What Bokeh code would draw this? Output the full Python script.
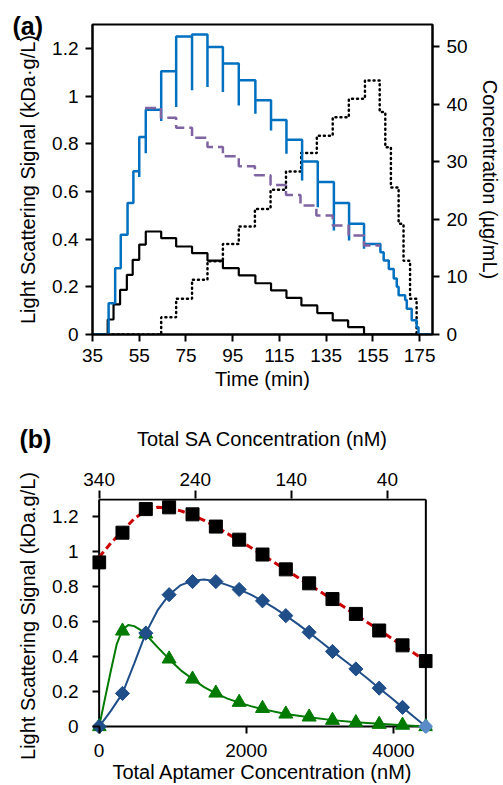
import numpy as np
from bokeh.plotting import figure
from bokeh.models import Range1d, LinearAxis, FixedTicker, Label
from bokeh.layouts import column
from bokeh.embed import file_html
from bokeh.resources import INLINE

FONT = "Liberation Sans"

# ---------------- Panel (a) data ----------------
time_ticks = [35, 55, 75, 95, 115, 135, 155, 175]
signal_ticks = [0, 0.2, 0.4, 0.6, 0.8, 1.0, 1.2]
signal_tick_labels = ["0", "0.2", "0.4", "0.6", "0.8", "1", "1.2"]
conc_ticks = [0, 10, 20, 30, 40, 50]

# blue light-scattering signal: step times, levels after each step, spike (dip) at the step
blue_time = [41.9, 44.7, 47.1, 50.0, 52.5, 55.0, 57.8, 64.4, 70.8, 77.6, 84.2, 90.8, 97.6,
             104.7, 111.4, 118.0, 124.7, 131.4, 138.3, 144.8, 151.2, 158.2, 159.6, 161.8,
             163.9, 165.2, 166.0, 168.8, 169.5, 171.6, 173.7, 174.5]
blue_level = [0.131, 0.278, 0.418, 0.551, 0.685, 0.828, 0.943, 1.104, 1.250, 1.258, 1.206,
              1.136, 1.066, 0.982, 0.900, 0.817, 0.726, 0.639, 0.551, 0.464, 0.380, 0.345,
              0.310, 0.275, 0.235, 0.200, 0.165, 0.145, 0.108, 0.060, 0.030, 0.0]
blue_dip = [None, None, None, None, None, 0.66, 0.76, 0.895, 0.954, 1.024, 1.038, 1.017,
            0.960, 0.926, 0.856, 0.758, 0.646, 0.534, 0.436, 0.394, 0.360, None, None, None,
            None, None, None, None, None, None, None, None]
blue_start, blue_end = 35.0, 180.5

# purple dashed signal
purple_time = [57.5, 64.3, 70.8, 77.6, 84.2, 90.8, 97.6, 104.5, 111.2, 117.8, 124.0, 130.8,
               137.8, 144.6, 151.2, 158.2]
purple_level = [0.950, 0.909, 0.867, 0.825, 0.786, 0.747, 0.706, 0.668, 0.627, 0.585, 0.541,
                0.499, 0.457, 0.415, 0.373, 0.373]

# black solid signal
black_time = [35.0, 41.5, 44.0, 46.8, 49.7, 52.2, 55.0, 57.8, 64.4, 70.8, 77.6, 84.2, 90.8,
              97.6, 104.7, 111.4, 118.0, 124.4, 131.2, 137.8, 144.4, 151.2, 180.5]
black_level = [0.0, 0.063, 0.126, 0.187, 0.250, 0.313, 0.377, 0.432, 0.404, 0.369, 0.341,
               0.310, 0.278, 0.248, 0.215, 0.185, 0.154, 0.122, 0.090, 0.059, 0.031, 0.0, 0.0]

# black dotted concentration (right axis, ug/mL)
dotted_time = [41.5, 64.4, 70.8, 77.6, 84.2, 90.8, 97.6, 104.5, 111.2, 117.8, 124.3, 131.0,
               137.8, 144.7, 151.6, 157.9, 160.3, 162.7, 166.0, 168.1, 170.9, 173.7, 175.5]
dotted_conc = [0.0, 3.0, 6.2, 9.5, 12.7, 15.7, 18.75, 21.8, 25.1, 28.3, 31.5, 34.5, 37.7,
               40.9, 44.1, 38.6, 32.5, 25.5, 19.2, 12.8, 6.2, 0.0, 0.0]

# ---------------- Panel (b) data ----------------
apt_conc = [0, 317, 634, 951, 1269, 1586, 1903, 2220, 2537, 2854, 3171, 3489, 3806, 4123, 4440]
square_signal = [0.94, 1.11, 1.245, 1.255, 1.215, 1.145, 1.07, 0.985, 0.90, 0.82, 0.73,
                 0.645, 0.55, 0.465, 0.375]
diamond_signal = [0.0, 0.19, 0.535, 0.755, 0.83, 0.83, 0.785, 0.72, 0.635, 0.54, 0.43,
                  0.33, 0.22, 0.11, 0.0]
triangle_signal = [0.0, 0.547, 0.53, 0.387, 0.272, 0.192, 0.139, 0.104, 0.072, 0.055,
                   0.036, 0.023, 0.013, 0.008, 0.0]

fit_conc = [0, 159, 317, 476, 634, 793, 951, 1110, 1269, 1427, 1586, 1744, 1903, 2061, 2220,
            2379, 2537, 2696, 2854, 3013, 3171, 3330, 3489, 3647, 3806, 3964, 4123, 4281, 4440]
red_fit = [0.97, 1.05, 1.12, 1.19, 1.235, 1.255, 1.25, 1.235, 1.21, 1.18, 1.145, 1.105, 1.065,
           1.025, 0.983, 0.94, 0.898, 0.855, 0.813, 0.77, 0.728, 0.684, 0.64, 0.596, 0.552,
           0.508, 0.464, 0.42, 0.376]
blue_fit = [0.0, 0.09, 0.19, 0.36, 0.535, 0.665, 0.755, 0.81, 0.835, 0.842, 0.832, 0.81, 0.785,
            0.755, 0.72, 0.68, 0.635, 0.588, 0.538, 0.486, 0.432, 0.38, 0.328, 0.275, 0.22,
            0.166, 0.11, 0.055, 0.0]
green_fit_conc = [0, 79, 159, 238, 317, 396, 476, 555, 634, 793, 951, 1110, 1269, 1427, 1586,
                  1744, 1903, 2061, 2220, 2537, 2854, 3171, 3489, 3806, 4123, 4440]
green_fit = [0.0, 0.16, 0.32, 0.47, 0.555, 0.582, 0.575, 0.555, 0.527, 0.455, 0.386, 0.322,
             0.272, 0.226, 0.19, 0.16, 0.137, 0.117, 0.1, 0.072, 0.053, 0.037, 0.025, 0.016,
             0.008, 0.0]

apt_ticks = [0, 2000, 4000]
sa_ticks = [340, 240, 140, 40]
sa_at_zero_apt = 340   # SA concentration at left edge of panel (b)

TICK_FS = "19px"
LABEL_FS = "20px"
PANEL_FS = "25px"


def style_axis(ax):
    ax.axis_line_width = 2
    ax.axis_line_color = "black"
    ax.major_tick_line_width = 2
    ax.major_tick_line_color = "black"
    ax.major_tick_out = 7
    ax.major_tick_in = 0
    ax.minor_tick_line_color = None
    ax.major_label_text_font = FONT
    ax.major_label_text_font_size = TICK_FS
    ax.major_label_text_color = "black"
    ax.axis_label_text_font = FONT
    ax.axis_label_text_font_size = LABEL_FS
    ax.axis_label_text_font_style = "normal"
    ax.axis_label_text_color = "black"


# ---------------- Figure (a) ----------------
pa = figure(width=503, height=393, x_range=Range1d(35, 180.5), y_range=Range1d(0, 1.3),
            output_backend="svg", toolbar_location=None, title="(a)",
            min_border_left=92, min_border_right=67, min_border_top=24, min_border_bottom=59)
pa.grid.visible = False
pa.outline_line_color = "black"
pa.outline_line_width = 2
pa.extra_y_ranges = {"conc": Range1d(0, 53.8)}
pa.title.align = "left"
pa.title.offset = -80
pa.title.standoff = -30
pa.title.text_font = FONT
pa.title.text_font_size = PANEL_FS
pa.title.text_font_style = "bold"
pa.title.text_color = "black"

pa.xaxis.ticker = FixedTicker(ticks=time_ticks)
pa.xaxis.axis_label = "Time (min)"
pa.yaxis.ticker = FixedTicker(ticks=signal_ticks)
pa.yaxis.major_label_overrides = {v: s for v, s in zip(signal_ticks, signal_tick_labels)}
pa.yaxis.axis_label = "Light Scattering Signal (kDa·g/L)"
for ax in pa.xaxis + pa.yaxis:
    style_axis(ax)
pa.xaxis.major_label_standoff = 7
pa.xaxis.axis_label_standoff = 3
pa.yaxis.major_label_standoff = 7
pa.yaxis.axis_label_standoff = 10

ax_r = LinearAxis(y_range_name="conc", ticker=FixedTicker(ticks=conc_ticks),
                  axis_label="Concentration (µg/mL)")
style_axis(ax_r)
ax_r.major_label_standoff = 7
ax_r.axis_label_standoff = 8
pa.add_layout(ax_r, "right")

# blue signal path with spikes
bx, by = [blue_start], [0.0]
prev = 0.0
for t, lv, d in zip(blue_time, blue_level, blue_dip):
    bx.append(t); by.append(prev)
    if d is not None:
        bx.append(t); by.append(d)
    bx.append(t); by.append(lv)
    prev = lv
bx.append(blue_end); by.append(prev)

pa.step(dotted_time, dotted_conc, mode="after", y_range_name="conc", line_color="black",
        line_width=2.5, line_dash="1 4", line_cap="round")
pa.step(black_time, black_level, mode="after", line_color="black", line_width=2.2)
pa.line(bx, by, line_color="#0070C0", line_width=2.5)
pa.step(purple_time, purple_level, mode="after", line_color="#8064A2", line_width=2.5,
        line_dash="11 5")

# ---------------- Figure (b) ----------------
# frame is widened by PAD px on left/right/bottom so that edge markers are not clipped;
# the visible box is drawn at the true data limits.
PAD = 7
FRAME_W, FRAME_H = 344, 230
APT_MAX = apt_conc[-1]
SIG_MAX = 1.3
dx = PAD * APT_MAX / FRAME_W
dy = PAD * SIG_MAX / FRAME_H
top_pad = 1 * SIG_MAX / FRAME_H

pb = figure(width=503, height=392,
            x_range=Range1d(-dx, APT_MAX + dx), y_range=Range1d(-dy, SIG_MAX + top_pad),
            output_backend="svg", toolbar_location=None,
            min_border_left=92 - PAD, min_border_right=67 - PAD, min_border_top=105,
            min_border_bottom=56 - PAD)
pb.grid.visible = False
pb.outline_line_color = None
sa_per_apt = sa_at_zero_apt / APT_MAX
pb.extra_x_ranges = {"sa": Range1d(sa_at_zero_apt + dx * sa_per_apt, -dx * sa_per_apt)}

pb.xaxis.ticker = FixedTicker(ticks=apt_ticks)
pb.xaxis.axis_label = "Total Aptamer Concentration (nM)"
pb.yaxis.ticker = FixedTicker(ticks=signal_ticks)
pb.yaxis.major_label_overrides = {v: s for v, s in zip(signal_ticks, signal_tick_labels)}
pb.yaxis.axis_label = "Light Scattering Signal (kDa.g/L)"
for ax in pb.xaxis + pb.yaxis:
    style_axis(ax)
    ax.axis_line_color = None
    ax.major_tick_out = 0
    ax.major_tick_in = PAD
pb.xaxis.major_label_standoff = 10
pb.xaxis.axis_label_standoff = 1
pb.yaxis.major_label_standoff = 14
pb.yaxis.axis_label_standoff = 10

ax_t = LinearAxis(x_range_name="sa", ticker=FixedTicker(ticks=sa_ticks),
                  axis_label="Total SA Concentration (nM)")
style_axis(ax_t)
ax_t.axis_line_color = None
ax_t.major_tick_out = 8
ax_t.major_label_standoff = 5
ax_t.axis_label_standoff = 20
pb.add_layout(ax_t, "above")
pb.add_layout(Label(x=-73, y=-14, x_units="screen", y_units="screen", text="(b)",
                    text_font=FONT, text_font_style="bold", text_font_size=PANEL_FS,
                    text_baseline="middle", text_color="black"), "above")

# plot box at the data limits
pb.segment(x0=[0, 0, APT_MAX, 0], y0=[0, 0, 0, SIG_MAX],
           x1=[APT_MAX, 0, APT_MAX, APT_MAX], y1=[0, SIG_MAX, SIG_MAX, SIG_MAX],
           line_color="black", line_width=2)

GREEN = "#007A00"
DBLUE = "#1F4E89"
LBLUE = "#5B8CC8"
pb.line(green_fit_conc, green_fit, line_color=GREEN, line_width=2)
pb.line(fit_conc, blue_fit, line_color=DBLUE, line_width=2)
pb.line(fit_conc, red_fit, line_color="#CC0000", line_width=3, line_dash="7 4")
pb.scatter(apt_conc, triangle_signal, marker="triangle", size=14, color=GREEN)
d_colors = [DBLUE] * (len(apt_conc) - 1) + [LBLUE]
pb.scatter(apt_conc, diamond_signal, marker="square", angle=np.pi / 4, size=10,
           fill_color=d_colors, line_color=d_colors)
pb.scatter(apt_conc, square_signal, marker="square", size=13, color="black")

layout = column(pa, pb)
open("out.html", "w").write(file_html(layout, INLINE))
